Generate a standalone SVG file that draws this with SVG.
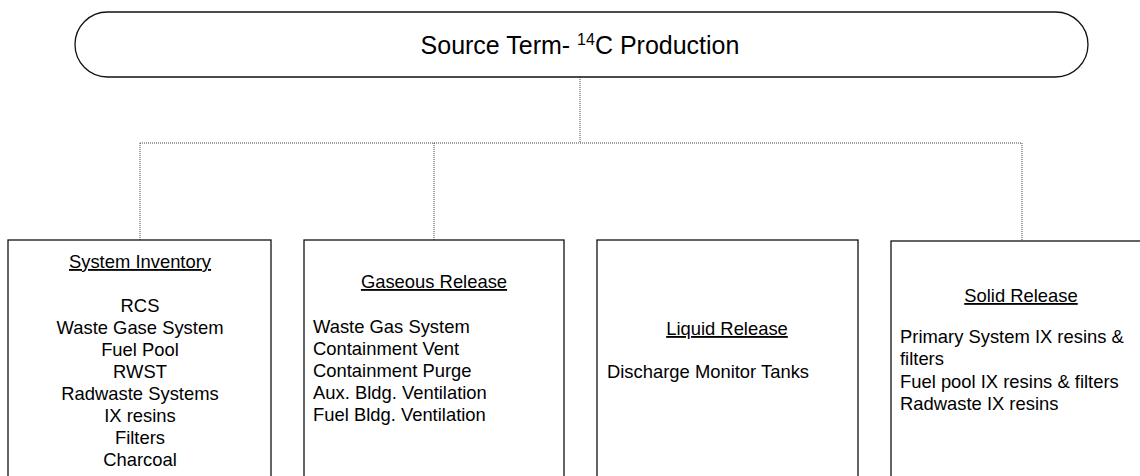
<svg xmlns="http://www.w3.org/2000/svg" width="1140" height="476" viewBox="0 0 1140 476">
<style>
text { font-family: "Liberation Sans", Arial, sans-serif; fill: #000; }
.t { font-size: 18.4px; }
.c { text-anchor: middle; }
.box { fill: #fff; stroke: #111; stroke-width: 1.3; }
.conn { fill: none; stroke: #444; stroke-width: 1; stroke-dasharray: 1 1; }
</style>
<rect width="1140" height="476" fill="#fff"/>
<g id="connectors">
<path class="conn" d="M580 77 V143"/>
<path class="conn" d="M140 143 H1022"/>
<path class="conn" d="M140 143 V240"/>
<path class="conn" d="M434 143 V240"/>
<path class="conn" d="M1022 143 V241"/>
</g>
<g id="source">
<rect class="box" x="75" y="12" width="1013" height="65" rx="32.5" ry="32.5"/>
<text x="580" y="54" class="c" font-size="25">Source Term- <tspan font-size="16" dy="-9">14</tspan><tspan dy="9">C Production</tspan></text>
</g>
<g id="system-inventory">
<rect class="box" x="8" y="240" width="263" height="260"/>
<text class="t c" x="140" y="268" text-decoration="underline">System Inventory</text>
<text class="t c" x="140" y="312">RCS</text>
<text class="t c" x="140" y="334">Waste Gase System</text>
<text class="t c" x="140" y="356">Fuel Pool</text>
<text class="t c" x="140" y="378">RWST</text>
<text class="t c" x="140" y="400">Radwaste Systems</text>
<text class="t c" x="140" y="422">IX resins</text>
<text class="t c" x="140" y="444">Filters</text>
<text class="t c" x="140" y="466">Charcoal</text>
</g>
<g id="gaseous-release">
<rect class="box" x="304" y="240" width="260" height="260"/>
<text class="t c" x="434" y="288" text-decoration="underline">Gaseous Release</text>
<text class="t" x="313" y="333">Waste Gas System</text>
<text class="t" x="313" y="355">Containment Vent</text>
<text class="t" x="313" y="377">Containment Purge</text>
<text class="t" x="313" y="399">Aux. Bldg. Ventilation</text>
<text class="t" x="313" y="421">Fuel Bldg. Ventilation</text>
</g>
<g id="liquid-release">
<rect class="box" x="597" y="240" width="261" height="260"/>
<text class="t c" x="727" y="335" text-decoration="underline">Liquid Release</text>
<text class="t" x="607" y="378">Discharge Monitor Tanks</text>
</g>
<g id="solid-release">
<rect class="box" x="891" y="241" width="260" height="260"/>
<text class="t c" x="1021" y="302" text-decoration="underline">Solid Release</text>
<text class="t" x="900" y="343">Primary System IX resins &amp;</text>
<text class="t" x="900" y="365">filters</text>
<text class="t" x="900" y="388">Fuel pool IX resins &amp; filters</text>
<text class="t" x="900" y="410">Radwaste IX resins</text>
</g>
</svg>
